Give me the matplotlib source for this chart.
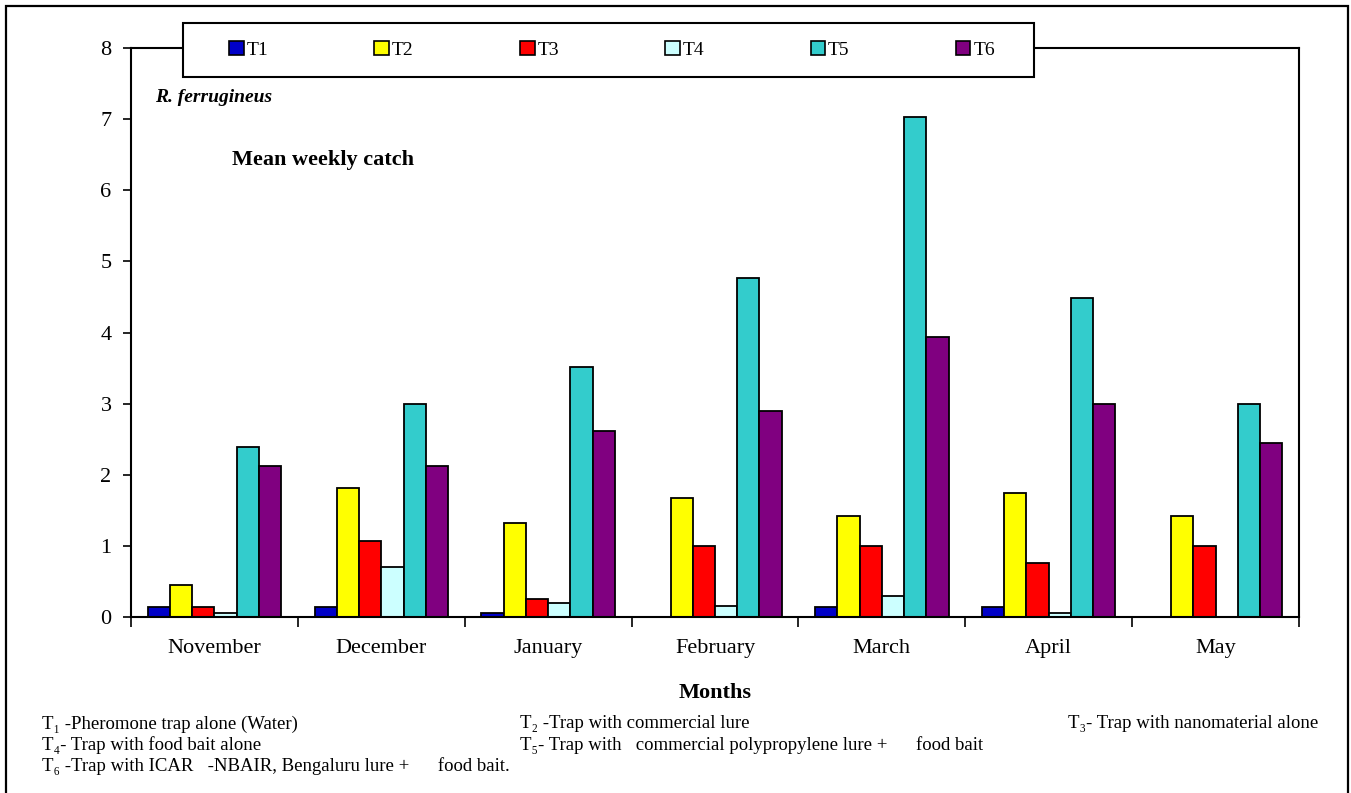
import numpy as np
import matplotlib
matplotlib.use('Agg')
import matplotlib.pyplot as plt
from matplotlib.patches import Rectangle, Patch
from matplotlib.ticker import FixedLocator

plt.rcParams['font.family'] = ['Liberation Serif', 'DejaVu Serif']

# mean weekly catch per trap treatment
months = ['November', 'December', 'January', 'February', 'March', 'April', 'May']
treatments = ['T1', 'T2', 'T3', 'T4', 'T5', 'T6']
t1 = [0.14, 0.14, 0.05, 0.0, 0.14, 0.14, 0.0]
t2 = [0.45, 1.82, 1.32, 1.68, 1.42, 1.74, 1.42]
t3 = [0.14, 1.07, 0.25, 1.0, 1.0, 0.76, 1.0]
t4 = [0.05, 0.70, 0.20, 0.15, 0.30, 0.06, 0.0]
t5 = [2.39, 3.0, 3.51, 4.76, 7.03, 4.49, 3.0]
t6 = [2.13, 2.13, 2.62, 2.89, 3.93, 3.0, 2.45]
colors = ['#0000C8', '#FFFF00', '#FF0000', '#CCFFFF', '#33CCCC', '#800080']

W, H = 1351, 793
fig = plt.figure(figsize=(W / 100, H / 100), dpi=100)
fig.patch.set_facecolor('white')

# outer frame
fig.patches.append(Rectangle((6 / W, -0.01), (1348 - 6) / W, 1 - 6 / H + 0.01,
                             transform=fig.transFigure, fill=False,
                             edgecolor='black', linewidth=1.6))

ax = fig.add_axes([131 / W, 1 - 617 / H, (1299 - 131) / W, (617 - 48) / H])

x = np.arange(len(months))
bw = 0.8 / len(treatments)
series = [t1, t2, t3, t4, t5, t6]
for i, vals in enumerate(series):
    ax.bar(x - 0.4 + bw * (i + 0.5), vals, width=bw, color=colors[i],
           edgecolor='black', linewidth=1.3, zorder=2)

ax.set_xlim(-0.5, len(months) - 0.5)
ax.set_ylim(0, 8)
ax.set_yticks(range(0, 9))
ax.tick_params(axis='y', direction='out', length=6, width=1.2, labelsize=16, pad=8)
ax.set_xticks(x)
ax.set_xticklabels(months, fontsize=16)
ax.tick_params(axis='x', which='major', length=0, pad=16)
ax.xaxis.set_minor_locator(FixedLocator(np.arange(-0.5, len(months), 1.0)))
ax.tick_params(axis='x', which='minor', direction='out', length=7, width=1.2)
for s in ax.spines.values():
    s.set_linewidth(1.5)

ax.set_xlabel('Months', fontsize=16, fontweight='bold', labelpad=18)

ax.text(155 / W, 1 - 97 / H, 'R. ferrugineus', transform=fig.transFigure,
        fontsize=14, fontweight='bold', style='italic', va='center')
ax.text(232 / W, 1 - 160 / H, 'Mean weekly catch', transform=fig.transFigure,
        fontsize=16, fontweight='bold', va='center')

# legend box above the plot (frame drawn separately, entries spread inside it)
fig.patches.append(Rectangle((183 / W, 1 - 77 / H), (1034 - 183) / W, 54 / H,
                             transform=fig.transFigure, facecolor='white',
                             edgecolor='black', linewidth=1.5, zorder=3))
handles = [Patch(facecolor=c, edgecolor='black', linewidth=1.2) for c in colors]
leg = fig.legend(handles, treatments, loc='center', ncol=6, mode='expand',
                 bbox_to_anchor=(229 / W, 1 - 77 / H, (995 - 229) / W, 54 / H),
                 bbox_transform=fig.transFigure, fontsize=14, frameon=False,
                 handlelength=0.75, handleheight=0.75, handletextpad=0.15,
                 borderaxespad=0, borderpad=0)
leg.set_zorder(5)

# treatment key
notes = [
    (42, 724, 'T\u2081 -Pheromone trap alone (Water)'),
    (520, 724, 'T\u2082 -Trap with commercial lure'),
    (1068, 724, 'T\u2083- Trap with nanomaterial alone'),
    (42, 745, 'T\u2084- Trap with food bait alone'),
    (520, 745, 'T\u2085- Trap with   commercial polypropylene lure +      food bait'),
    (42, 766, 'T\u2086 -Trap with ICAR   -NBAIR, Bengaluru lure +      food bait.'),
]
for nx, ny, s in notes:
    fig.text(nx / W, 1 - ny / H, s, fontsize=13.5, va='center', ha='left')

fig.savefig('out.png', dpi=100)
